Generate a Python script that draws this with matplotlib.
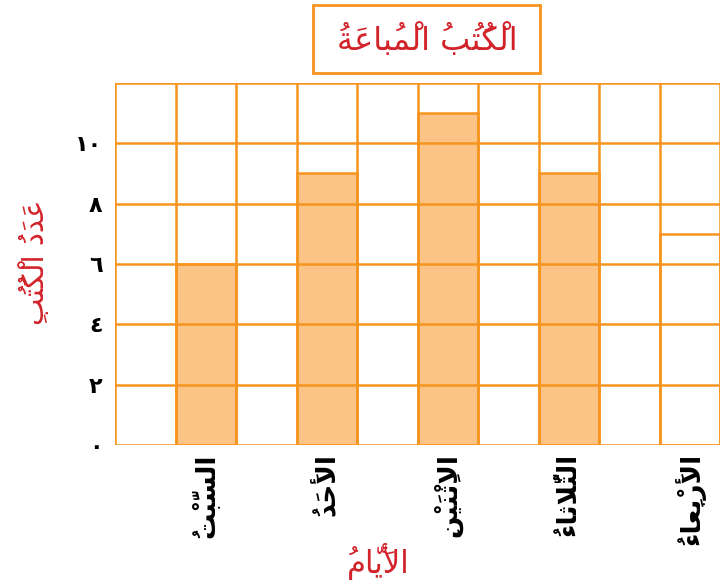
import matplotlib
matplotlib.use("Agg")
import matplotlib.pyplot as plt
from matplotlib.patches import Rectangle

# ---- data ----
days = ["السَّبْتُ", "الأَحَدُ", "الاِثْنَيْنِ", "الثُّلاثاءُ", "الأَرْبِعاءُ"]
books_sold = [6, 9, 11, 9, 7]
bar_filled = [True, True, True, True, False]
y_ticks = [0, 2, 4, 6, 8, 10]
y_tick_labels = ["٠", "٢", "٤", "٦", "٨", "١٠"]
title_text = "الْكُتُبُ الْمُباعَةُ"
y_label_text = "عَدَدُ الْكُتُبِ"
x_label_text = "الأَيّامُ"

ORANGE = "#F7941D"
FILL = "#FBC386"
RED = "#D2232A"

# ---- tiny arabic shaper (matplotlib has no complex text layout) ----
FORMS = {
    "\u0627": ("\uFE8D", "\uFE8E", None, None),
    "\u0623": ("\uFE83", "\uFE84", None, None),
    "\u0625": ("\uFE87", "\uFE88", None, None),
    "\u0628": ("\uFE8F", "\uFE90", "\uFE91", "\uFE92"),
    "\u0629": ("\uFE93", "\uFE94", None, None),
    "\u062A": ("\uFE95", "\uFE96", "\uFE97", "\uFE98"),
    "\u062B": ("\uFE99", "\uFE9A", "\uFE9B", "\uFE9C"),
    "\u062D": ("\uFEA1", "\uFEA2", "\uFEA3", "\uFEA4"),
    "\u062F": ("\uFEA9", "\uFEAA", None, None),
    "\u0631": ("\uFEAD", "\uFEAE", None, None),
    "\u0633": ("\uFEB1", "\uFEB2", "\uFEB3", "\uFEB4"),
    "\u0639": ("\uFEC9", "\uFECA", "\uFECB", "\uFECC"),
    "\u0643": ("\uFED9", "\uFEDA", "\uFEDB", "\uFEDC"),
    "\u0644": ("\uFEDD", "\uFEDE", "\uFEDF", "\uFEE0"),
    "\u0645": ("\uFEE1", "\uFEE2", "\uFEE3", "\uFEE4"),
    "\u0646": ("\uFEE5", "\uFEE6", "\uFEE7", "\uFEE8"),
    "\u064A": ("\uFEF1", "\uFEF2", "\uFEF3", "\uFEF4"),
    "\u0621": ("\uFE80", None, None, None),
}
LAM_ALEF = {"\u0627": ("\uFEFB", "\uFEFC"), "\u0623": ("\uFEF7", "\uFEF8"),
            "\u0625": ("\uFEF9", "\uFEFA")}


def is_mark(ch):
    return "\u064B" <= ch <= "\u0652"


def shape(text):
    clusters = []
    for ch in text:
        if is_mark(ch) and clusters:
            clusters[-1][1].append(ch)
        else:
            clusters.append([ch, []])
    # lam-alef ligatures
    merged = []
    i = 0
    while i < len(clusters):
        base, marks = clusters[i]
        if base == "\u0644" and i + 1 < len(clusters) and clusters[i + 1][0] in LAM_ALEF:
            merged.append(["LA" + clusters[i + 1][0], marks + clusters[i + 1][1]])
            i += 2
        else:
            merged.append([base, marks])
            i += 1

    def jtype(b):
        if b.startswith("LA"):
            return "R"
        f = FORMS.get(b)
        if f is None or f[1] is None:
            return "U"
        return "D" if f[2] else "R"

    out = []
    for k, (b, marks) in enumerate(merged):
        jt = jtype(b)
        prev_ok = k > 0 and jtype(merged[k - 1][0]) == "D" and jt in "DR"
        next_ok = k + 1 < len(merged) and jt == "D" and jtype(merged[k + 1][0]) in "DR"
        if b.startswith("LA"):
            g = LAM_ALEF[b[2]][1 if prev_ok else 0]
        elif b in FORMS and jt != "U":
            iso, fin, ini, med = FORMS[b]
            if prev_ok and next_ok:
                g = med
            elif prev_ok:
                g = fin
            elif next_ok:
                g = ini
            else:
                g = iso
        elif b in FORMS:
            g = FORMS[b][0]
        else:
            g = b
        # marks go before the base: matplotlib draws them right of the pen
        out.append("".join(marks) + g)
    return "".join(reversed(out))


# ---- figure ----
fig = plt.figure(figsize=(7.22, 5.85), dpi=100)
ax = fig.add_axes([115 / 722, 140 / 585, 605 / 722, 362 / 585])

n_cols = 10
bar_pos = [2 * i + 1.5 for i in range(len(days))]
for x, v, filled in zip(bar_pos, books_sold, bar_filled):
    ax.bar(x, v, width=1.0, color=FILL if filled else "white",
           edgecolor=ORANGE, linewidth=1.8, zorder=2)

ax.set_xlim(0, n_cols)
ax.set_ylim(0, 12)
for gx in range(n_cols + 1):
    ax.axvline(gx, color=ORANGE, lw=1.8, zorder=3)
for gy in range(0, 13, 2):
    ax.axhline(gy, color=ORANGE, lw=1.8, zorder=3)
for s in ax.spines.values():
    s.set_visible(False)

ax.set_yticks(y_ticks)
ax.set_yticklabels(y_tick_labels, fontsize=16, fontweight="bold")
ax.set_xticks(bar_pos)
ax.set_xticklabels([shape(d) for d in days], rotation=90, fontsize=19,
                   fontweight="bold", va="top", ha="center")
ax.tick_params(length=0, pad=6)
ax.tick_params(axis="y", pad=9)

fig.text(35 / 722, 1 - 262 / 585, shape(y_label_text), rotation=90, color=RED,
         fontsize=21, ha="center", va="center")
fig.text(378 / 722, 1 - 561 / 585, shape(x_label_text), color=RED,
         fontsize=22, ha="center", va="center")

# title box
fig.patches.append(Rectangle((313 / 722, 1 - 73 / 585), 227 / 722, 68 / 585,
                             transform=fig.transFigure, facecolor="white",
                             edgecolor=ORANGE, linewidth=2.0))
fig.text(427 / 722, 1 - 40 / 585, shape(title_text), color=RED, fontsize=23,
         ha="center", va="center")

fig.savefig("out.png", dpi=100)
